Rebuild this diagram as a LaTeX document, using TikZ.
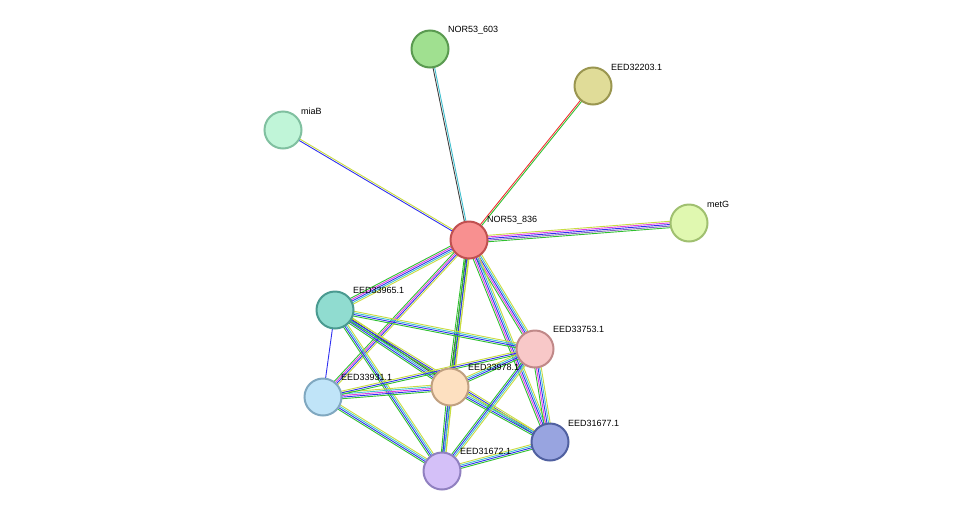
\documentclass[tikz,border=0pt]{standalone}
\usepackage{fontspec}
\setmainfont{Liberation Sans}
\usetikzlibrary{calc}
\definecolor{eg}{HTML}{30C030}\definecolor{em}{HTML}{E040E0}\definecolor{eb}{HTML}{3030F0}
\definecolor{ec}{HTML}{40C0D0}\definecolor{ey}{HTML}{C8DC40}\definecolor{ek}{HTML}{404040}
\definecolor{er}{HTML}{F03030}\definecolor{ep}{HTML}{8060C0}
\tikzset{nd/.style={circle,minimum size=37pt,line width=2pt,inner sep=0pt},
 lb/.style={font=\fontsize{9}{10}\selectfont,anchor=south west,inner sep=0pt}}
\newcommand{\sedge}[3]{%
 \foreach \c [count=\i] in {#3}{\xdef\nn{\i}}%
 \foreach \c [count=\i] in {#3}{%
  \pgfmathsetmacro{\off}{(\i-(\nn+1)/2)*1.6}%
  \draw[draw=\c,line width=0.9pt] ($(#1)!\off pt!90:(#2)$) -- ($(#2)!\off pt!-90:(#1)$);}}
\begin{document}
\begin{tikzpicture}[x=1pt,y=-1pt]
\useasboundingbox (0,0) rectangle (976,517);
\coordinate (a603) at (430,49);\coordinate (a322) at (593,86);\coordinate (amia) at (283,130);
\coordinate (amet) at (689,223);\coordinate (a836) at (469,240);\coordinate (a965) at (335,310);
\coordinate (a753) at (535,349);\coordinate (a931) at (323,397);\coordinate (a978) at (450,387);
\coordinate (a677) at (550,442);\coordinate (a672) at (442,471);
\sedge{a603}{a836}{ek,ec}
\sedge{a322}{a836}{er,eg}
\sedge{amia}{a836}{eb,ey}
\sedge{amet}{a836}{ey,em,eb,ep,eg}
\sedge{a836}{a965}{eg,em,eb,ec,ey}
\sedge{a836}{a753}{eg,em,eb,ec,ey}
\sedge{a836}{a978}{eg,ek,eg,ey}
\sedge{a836}{a931}{eg,em,eb,ey}
\sedge{a836}{a677}{eg,em,eb,ec,ey}
\sedge{a836}{a672}{eg,eb,ey}
\sedge{a965}{a931}{eb}
\sedge{a965}{a978}{eg,eb,ec,ek,ey}
\sedge{a965}{a753}{eg,eb,ec,ey}
\sedge{a965}{a672}{eg,eb,ec,ey}
\sedge{a965}{a677}{eg,eb,ey}
\sedge{a931}{a978}{eg,eb,em,ec,ey}
\sedge{a931}{a753}{eg,eb,ey}
\sedge{a931}{a672}{eg,eb,ec,ey}
\sedge{a978}{a753}{eg,eb,ec,ey}
\sedge{a978}{a677}{eg,eb,ec,ey}
\sedge{a978}{a672}{eg,eb,ec,ey}
\sedge{a753}{a677}{eg,em,eb,ec,ey}
\sedge{a753}{a672}{eg,eb,ec,ey}
\sedge{a672}{a677}{eg,eb,ec,ey}
\node[nd,fill={rgb,255:red,160;green,224;blue,144},draw={rgb,255:red,90;green,154;blue,80}] (n603) at (a603) {};
\node[nd,fill={rgb,255:red,224;green,220;blue,152},draw={rgb,255:red,154;green,150;blue,80}] (n322) at (a322) {};
\node[nd,fill={rgb,255:red,192;green,245;blue,216},draw={rgb,255:red,128;green,192;blue,160}] (nmia) at (amia) {};
\node[nd,fill={rgb,255:red,224;green,248;blue,176},draw={rgb,255:red,160;green,192;blue,112}] (nmet) at (amet) {};
\node[nd,fill={rgb,255:red,248;green,144;blue,144},draw={rgb,255:red,192;green,80;blue,80}] (n836) at (a836) {};
\node[nd,fill={rgb,255:red,144;green,220;blue,208},draw={rgb,255:red,74;green,154;blue,144}] (n965) at (a965) {};
\node[nd,fill={rgb,255:red,248;green,200;blue,200},draw={rgb,255:red,192;green,136;blue,136}] (n753) at (a753) {};
\node[nd,fill={rgb,255:red,192;green,228;blue,248},draw={rgb,255:red,128;green,168;blue,192}] (n931) at (a931) {};
\node[nd,fill={rgb,255:red,253;green,224;blue,192},draw={rgb,255:red,192;green,160;blue,128}] (n978) at (a978) {};
\node[nd,fill={rgb,255:red,152;green,164;blue,224},draw={rgb,255:red,80;green,96;blue,160}] (n677) at (a677) {};
\node[nd,fill={rgb,255:red,212;green,192;blue,248},draw={rgb,255:red,144;green,128;blue,192}] (n672) at (a672) {};
\node[lb] at (448,34) {NOR53\_603};
\node[lb] at (611,71) {EED32203.1};
\node[lb] at (301,115) {miaB};
\node[lb] at (707,208) {metG};
\node[lb] at (487,224) {NOR53\_836};
\node[lb] at (353,294) {EED33965.1};
\node[lb] at (553,333) {EED33753.1};
\node[lb] at (341,381) {EED33931.1};
\node[lb] at (468,371) {EED33978.1};
\node[lb] at (568,427) {EED31677.1};
\node[lb] at (460,455) {EED31672.1};
\end{tikzpicture}
\end{document}
